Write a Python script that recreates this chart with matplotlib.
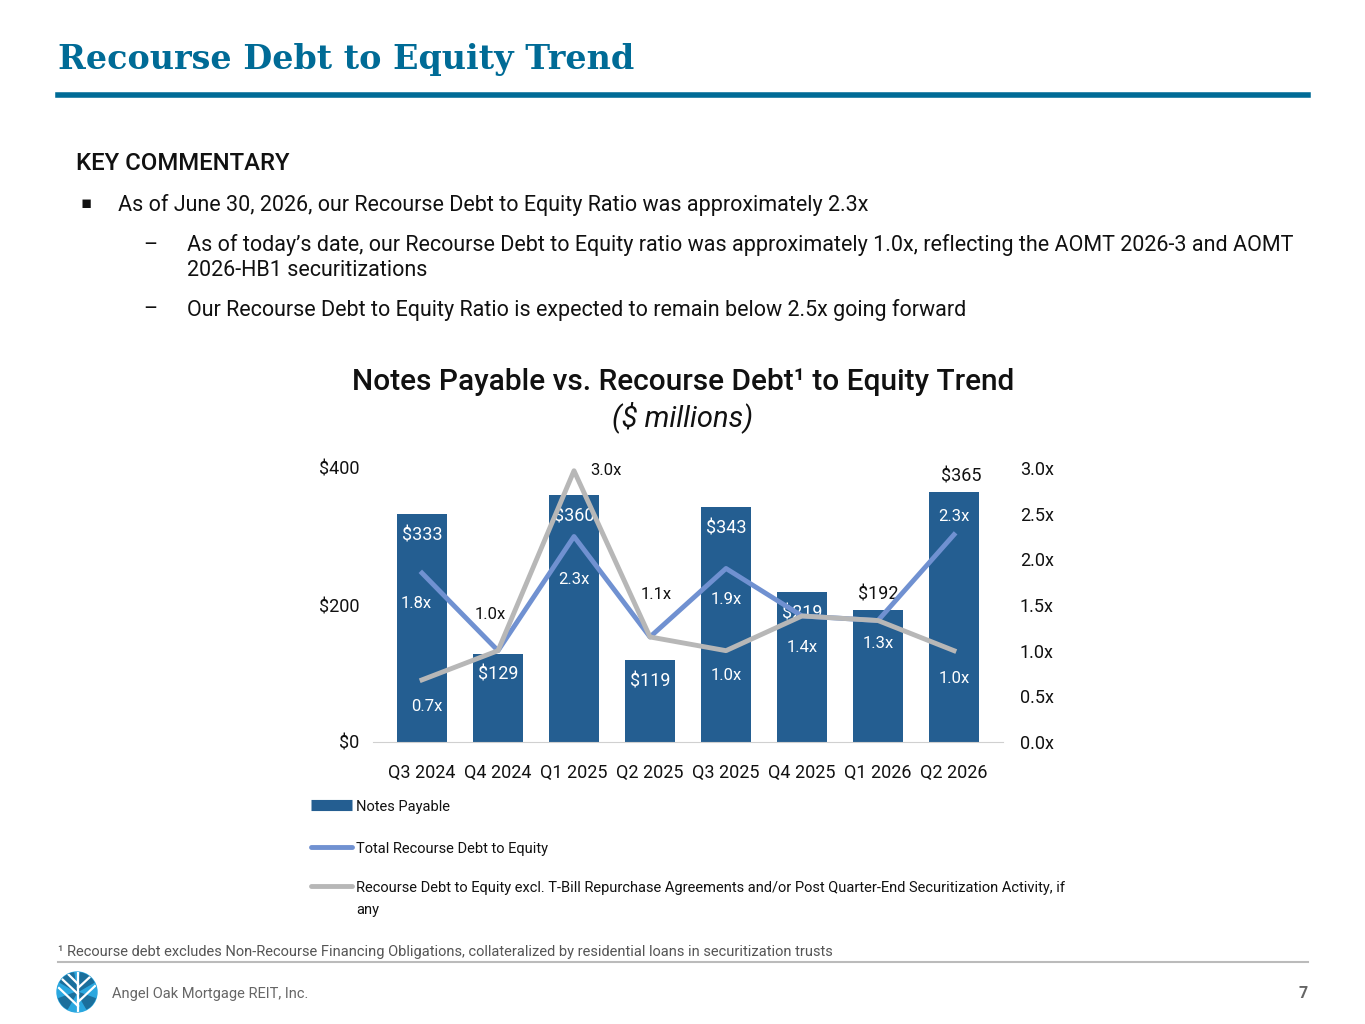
import matplotlib
matplotlib.use("Agg")
import matplotlib.pyplot as plt
from matplotlib import font_manager
from matplotlib.lines import Line2D
from matplotlib.patches import Circle, Wedge

# ── Data ──────────────────────────────────────────────────────────────────────
quarters      = ["Q3 2024", "Q4 2024", "Q1 2025", "Q2 2025",
                 "Q3 2025", "Q4 2025", "Q1 2026", "Q2 2026"]
notes_payable = [333, 129, 360, 119, 343, 219, 192, 365]
total_ratio   = [1.85, 1.0, 2.25, 1.15, 1.9, 1.38, 1.33, 2.27]
excl_ratio    = [0.68, 1.0, 2.97, 1.15, 1.0, 1.38, 1.33, 1.0]
total_labels  = ["1.8x", "1.0x", "2.3x", "1.1x", "1.9x", "1.4x", "1.3x", "2.3x"]
excl_labels   = ["0.7x", "", "3.0x", "", "1.0x", "", "", "1.0x"]
left_ticks    = [0, 200, 400]
right_ticks   = [0, 0.5, 1.0, 1.5, 2.0, 2.5, 3.0]
legend_labels = ["Notes Payable", "Total Recourse Debt to Equity",
                 "Recourse Debt to Equity excl. T-Bill Repurchase Agreements and/or "
                 "Post Quarter-End Securitization Activity, if\nany"]

BAR   = "#245E91"
BLUE  = "#7091D1"
GRAY  = "#B7B7B7"
TEAL  = "#006B96"
INK   = "#111111"
FONT  = ["Roboto", "DejaVu Sans"]

plt.rcParams["font.family"] = FONT

# slab serif title: condensed DejaVu Serif if it is there
try:
    font_manager.findfont(font_manager.FontProperties(family="DejaVu Serif Condensed"),
                          fallback_to_default=False)
    TITLE_FONT, TITLE_SIZE = "DejaVu Serif Condensed", 27
except Exception:
    TITLE_FONT, TITLE_SIZE = "DejaVu Serif", 24

W, H = 1365, 1024
fig = plt.figure(figsize=(W / 100, H / 100), dpi=100)

def fx(px): return px / W
def fy(py): return 1 - py / H

# ── Header ────────────────────────────────────────────────────────────────────
fig.text(fx(58), fy(60), "Recourse Debt to Equity Trend", family=TITLE_FONT,
         fontsize=TITLE_SIZE, fontweight="bold", color=TEAL, va="center", ha="left")
fig.add_artist(Line2D([fx(58), fx(1308)], [fy(95), fy(95)], color=TEAL, lw=4))

fig.text(fx(76), fy(164), "KEY COMMENTARY", fontsize=17.2, fontweight="medium",
         color=INK, va="center")
fig.text(fx(80), fy(203), "▪", fontsize=12, color=INK, va="center",
         family="DejaVu Sans")
fig.text(fx(118), fy(205), "As of June 30, 2026, our Recourse Debt to Equity Ratio was approximately 2.3x",
         fontsize=15.5, color=INK, va="center")
fig.text(fx(143), fy(245), "–", fontsize=15.5, color=INK, va="center")
fig.text(fx(187), fy(245), "As of today’s date, our Recourse Debt to Equity ratio was approximately 1.0x, "
         "reflecting the AOMT 2026-3 and AOMT", fontsize=15.5, color=INK, va="center")
fig.text(fx(187), fy(271), "2026-HB1 securitizations", fontsize=15.5, color=INK, va="center")
fig.text(fx(143), fy(310), "–", fontsize=15.5, color=INK, va="center")
fig.text(fx(187), fy(310), "Our Recourse Debt to Equity Ratio is expected to remain below 2.5x going forward",
         fontsize=15.5, color=INK, va="center")

# ── Chart title ───────────────────────────────────────────────────────────────
fig.text(fx(683), fy(382), "Notes Payable vs. Recourse Debt¹ to Equity Trend",
         fontsize=21.5, fontweight="medium", color=INK, ha="center", va="center")
fig.text(fx(683), fy(417), "($ millions)", fontsize=21, style="italic",
         color=INK, ha="center", va="center")

# ── Chart ─────────────────────────────────────────────────────────────────────
ax = fig.add_axes([fx(384), fy(742), fx(608), 274 / H])
x = list(range(len(quarters)))
bars = ax.bar(x, notes_payable, width=0.67, color=BAR, zorder=2)
ax.set_xlim(-0.5, len(quarters) - 0.5)
ax.set_ylim(0, 400)
ax.set_yticks(left_ticks)
ax.set_yticklabels([f"${v}" for v in left_ticks])
ax.set_xticks(x)
ax.set_xticklabels(quarters)
ax.tick_params(axis="both", length=0, labelsize=13, colors=INK)
ax.tick_params(axis="y", pad=18)
ax.tick_params(axis="x", pad=16)
for s in ["top", "right", "left"]:
    ax.spines[s].set_visible(False)
ax.spines["bottom"].set_color("#D0D0D0")
ax.spines["bottom"].set_bounds(-0.65, 7.65)

for i, v in enumerate(notes_payable):
    if v in (192, 365):
        ax.text(i + (0.1 if v == 365 else 0), v + 10, f"${v}", ha="center",
                va="bottom", fontsize=13, color=INK, zorder=5)
    else:
        ax.text(i, v - 31, f"${v}", ha="center", va="center", fontsize=13,
                color="white", zorder=5)

ax2 = ax.twinx()
ax2.set_ylim(0, 3.0)
ax2.set_yticks(right_ticks)
ax2.set_yticklabels([f"{v:.1f}x" for v in right_ticks])
ax2.tick_params(axis="y", length=0, labelsize=13, colors=INK, pad=20)
for s in ax2.spines.values():
    s.set_visible(False)
ax2.plot(x, excl_ratio, color=GRAY, lw=3.5, zorder=5)
ax2.plot(x, total_ratio, color=BLUE, lw=3.5, zorder=4)

# ratio labels: (x offset, y offset in ratio units, colour)
tot_pos = [(-0.08, -0.33, "white"), (-0.1, 0.4, INK), (0, -0.47, "white"),
           (0.08, 0.46, INK), (0, -0.34, "white"), (0, -0.34, "white"),
           (0, -0.25, "white"), (0, 0.2, "white")]
for i, (lab, (dx, dy, c)) in enumerate(zip(total_labels, tot_pos)):
    ax2.text(i + dx, total_ratio[i] + dy, lab, ha="center", va="center",
             fontsize=12, color=c, zorder=6)
excl_pos = {0: (0.06, -0.29, "white"), 2: (0.42, 0.0, INK),
            4: (0, -0.27, "white"), 7: (0, -0.3, "white")}
for i, lab in enumerate(excl_labels):
    if lab:
        dx, dy, c = excl_pos[i]
        ax2.text(i + dx, excl_ratio[i] + dy, lab, ha="center", va="center",
                 fontsize=12, color=c, zorder=6)
ax.set_zorder(1)
ax2.set_zorder(2)

# ── Legend (handles sit on the first line of each label) ──────────────────────
for (col, lw, cap), label, ypx in zip([(BAR, 8, "butt"), (BLUE, 3.5, "round"),
                                       (GRAY, 3.5, "round")],
                                      legend_labels, [805, 847, 886]):
    fig.add_artist(Line2D([fx(311), fx(352)], [fy(ypx), fy(ypx)], color=col,
                          lw=lw, solid_capstyle=cap))
    fig.text(fx(356), fy(ypx - 5), label, fontsize=10.5, color=INK,
             va="top", ha="left", linespacing=1.7)

# ── Footer ────────────────────────────────────────────────────────────────────
fig.text(fx(58), fy(952), "¹ Recourse debt excludes Non-Recourse Financing Obligations, "
         "collateralized by residential loans in securitization trusts",
         fontsize=10.5, color="#555555", va="center")
fig.add_artist(Line2D([fx(58), fx(1308)], [fy(962), fy(962)], color="#BBBBBB", lw=1.5))
fig.text(fx(112), fy(994), "Angel Oak Mortgage REIT, Inc.", fontsize=10.5,
         color="#666666", va="center")
fig.text(fx(1308), fy(994), "7", fontsize=11.5, fontweight="bold",
         color="#666666", va="center", ha="right")

# logo: circle with tree-like white cuts
lax = fig.add_axes([fx(54), fy(1015), fx(46), 46 / H])
lax.set_xlim(-1.15, 1.15)
lax.set_ylim(-1.15, 1.15)
lax.set_aspect("equal")
lax.axis("off")
circ = Circle((0, 0), 1, color="#2AA7DF")
lax.add_patch(circ)
for th1, th2 in [(100, 150), (30, 80), (200, 240), (300, 340)]:
    w = Wedge((0, 0), 1, th1, th2, color="#1B6F9C")
    lax.add_patch(w)
    w.set_clip_path(circ)
for xs, ys in [([0.05, 0.05], [-1, 1]),
               ([0.05, -0.9], [-0.7, 0.2]), ([0.05, -0.8], [-0.1, 0.7]),
               ([0.05, 0.9], [-0.5, 0.3]), ([0.05, 0.7], [0.2, 0.8]),
               ([0.05, -0.5], [0.4, 0.95])]:
    ln, = lax.plot(xs, ys, color="white", lw=1.6)
    ln.set_clip_path(circ)

fig.savefig("out.png", dpi=100)
